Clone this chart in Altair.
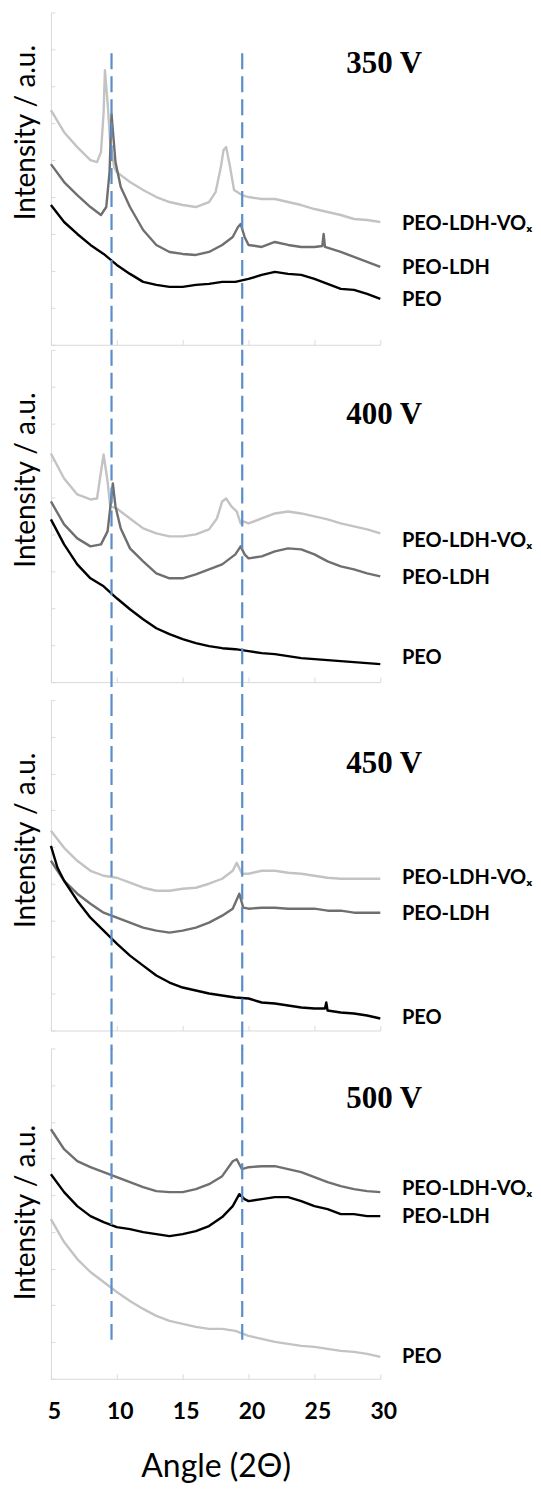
import altair as alt
import pandas as pd

# ---------------- data ----------------
SERIES = ["PEO-LDH-VOₓ", "PEO-LDH", "PEO"]
X_TICKS = [5, 10, 15, 20, 25, 30]
STEP_X = list(range(5, 31))

# 350 V
v350_vox_x = [5, 6, 7, 8, 8.5, 8.8, 9.0, 9.1, 9.3, 9.5, 9.8, 10, 11, 12, 13, 14, 15, 16, 17, 17.5,
              17.9, 18.1, 18.3, 18.6, 18.9, 19.5, 20, 21, 22, 23, 24, 25, 26, 27, 28, 29, 30]
v350_vox_y = [235, 213, 198, 185, 183, 193, 233, 275, 243, 203, 178, 173, 163, 155, 148, 143, 140, 138, 143, 153,
              178, 195, 198, 178, 155, 150, 148, 146, 146, 143, 140, 136, 133, 130, 126, 125, 123]
v350_ldh_x = [5, 6, 7, 8, 8.8, 9.2, 9.45, 9.6, 9.9, 10.3, 11, 12, 13, 14, 15, 16, 17, 18, 18.8, 19.2,
              19.4, 19.7, 20, 21, 22, 23, 24, 25, 25.6, 25.7, 25.8, 27, 28, 29, 30]
v350_ldh_y = [181, 163, 150, 138, 130, 138, 173, 231, 183, 158, 138, 115, 100, 93, 91, 90, 93, 100, 108, 118,
              121, 108, 100, 98, 103, 100, 98, 98, 99, 111, 98, 93, 88, 83, 78]
v350_peo_x = STEP_X
v350_peo_y = [140, 123, 111, 100, 91, 80, 71, 63, 60, 58, 58, 60, 61, 63, 63, 66, 70, 73, 71, 70, 66, 61, 56, 55, 51, 46]

# 400 V
v400_vox_x = [5, 6, 7, 8, 8.5, 8.8, 9.0, 9.3, 9.5, 10, 11, 12, 13, 14, 15, 16, 17, 17.6, 18.0, 18.3,
              18.7, 19.1, 19.4, 19.6, 20, 21, 22, 23, 24, 25, 26, 27, 28, 29, 30]
v400_vox_y = [229, 204, 188, 183, 184, 211, 228, 201, 176, 174, 164, 154, 149, 146, 146, 148, 153, 164, 181, 184,
              176, 171, 159, 161, 159, 164, 169, 171, 169, 166, 163, 159, 156, 153, 149]
v400_ldh_x = [5, 6, 7, 8, 8.8, 9.3, 9.5, 9.7, 9.9, 10.3, 11, 12, 13, 14, 15, 16, 17, 18, 19, 19.4,
              19.7, 20, 21, 22, 23, 24, 25, 26, 27, 28, 29, 30]
v400_ldh_y = [181, 158, 144, 136, 138, 151, 174, 199, 176, 154, 134, 121, 109, 104, 104, 108, 113, 118, 128, 136,
              128, 124, 126, 131, 134, 133, 128, 121, 116, 113, 109, 106]
v400_peo_x = STEP_X
v400_peo_y = [163, 138, 118, 104, 96, 84, 73, 63, 54, 48, 43, 39, 36, 34, 33, 31, 29, 28, 26, 24, 23, 22, 21, 20, 19, 18]

# 450 V
v450_vox_x = [5, 6, 7, 8, 9, 10, 11, 12, 13, 14, 15, 16, 17, 18, 18.8, 19.1, 19.5, 20, 21, 22,
              23, 24, 25, 26, 27, 28, 29, 30]
v450_vox_y = [200, 183, 170, 160, 155, 153, 148, 143, 140, 140, 142, 143, 147, 152, 160, 168, 157, 157, 160, 160,
              158, 157, 155, 153, 152, 152, 152, 152]
v450_ldh_x = [5, 6, 7, 8, 9, 10, 11, 12, 13, 14, 15, 16, 17, 18, 18.8, 19.3, 19.6, 20, 21, 22,
              23, 24, 25, 26, 27, 28, 29, 30]
v450_ldh_y = [170, 150, 137, 127, 118, 113, 108, 103, 100, 98, 100, 103, 108, 115, 122, 137, 123, 122, 123, 123,
              122, 122, 122, 120, 120, 118, 118, 118]
v450_peo_x = [5, 5.5, 6, 7, 8, 9, 10, 11, 12, 13, 14, 15, 16, 17, 18, 19, 20, 21, 22, 23,
              24, 25, 25.8, 25.9, 26, 27, 28, 29, 30]
v450_peo_y = [185, 163, 150, 130, 113, 100, 87, 75, 65, 55, 48, 43, 40, 37, 35, 33, 32, 28, 27, 25,
              23, 22, 22, 28, 20, 18, 17, 15, 12]

# 500 V
v500_vox_x = [5, 6, 7, 8, 9, 10, 11, 12, 13, 14, 15, 16, 17, 18, 18.8, 19.1, 19.5, 20, 21, 22,
              23, 24, 25, 26, 27, 28, 29, 30]
v500_vox_y = [250, 230, 218, 212, 207, 202, 197, 192, 188, 187, 187, 190, 195, 203, 218, 220, 210, 212, 213, 213,
              210, 207, 202, 197, 193, 190, 188, 187]
v500_ldh_x = [5, 6, 7, 8, 9, 10, 11, 12, 13, 14, 15, 16, 17, 18, 18.8, 19.3, 19.7, 20, 21, 22,
              23, 24, 25, 26, 27, 28, 29, 30]
v500_ldh_y = [205, 187, 173, 163, 157, 152, 150, 147, 145, 143, 145, 148, 153, 162, 173, 185, 180, 178, 180, 182,
              182, 178, 173, 170, 165, 165, 163, 163]
v500_peo_x = STEP_X
v500_peo_y = [160, 137, 120, 107, 97, 87, 78, 70, 63, 58, 55, 52, 50, 50, 48, 43, 40, 37, 35, 33, 32, 30, 28, 27, 25, 22]

VOLTAGES = ["350 V", "400 V", "450 V", "500 V"]
PEAK_ANGLES = [9.6, 19.52]
# label heights (a.u.) for the three series names, per panel
LABEL_Y = [[121, 77, 45], [141, 104, 24], [153, 117, 12], [190, 162, 22]]
VOLT_Y = [281, 268, 267, 280]
# dashed guide extent (a.u.) per panel: top, bottom
GUIDE = [(292, -5), (333, -18), (331, -19), (331, 32)]

# ---------------- styling ----------------
AX = "#d9d9d9"
LIGHT, MID, DARK = "#c3c3c3", "#6f6f6f", "#000000"
PANEL_COLORS = [[LIGHT, MID, DARK], [LIGHT, MID, DARK], [LIGHT, MID, DARK], [MID, DARK, LIGHT]]
HEIGHTS = [333, 333, 331, 331]
TITLE_Y = [120, 130, 140, 164]
W = 330
LABEL_X = 31.64
VOLT_X = 30.3


def frame(xs_list, ys_list):
    rows = []
    for name, xs, ys in zip(SERIES, xs_list, ys_list):
        for a, b in zip(xs, ys):
            rows.append({"angle": a, "intensity": b, "series": name})
    return pd.DataFrame(rows)


PANEL_DATA = [
    frame([v350_vox_x, v350_ldh_x, v350_peo_x], [v350_vox_y, v350_ldh_y, v350_peo_y]),
    frame([v400_vox_x, v400_ldh_x, v400_peo_x], [v400_vox_y, v400_ldh_y, v400_peo_y]),
    frame([v450_vox_x, v450_ldh_x, v450_peo_x], [v450_vox_y, v450_ldh_y, v450_peo_y]),
    frame([v500_vox_x, v500_ldh_x, v500_peo_x], [v500_vox_y, v500_ldh_y, v500_peo_y]),
]


def panel(i):
    h = HEIGHTS[i]
    bottom = i == 3
    xs = alt.Scale(domain=[5, 30], nice=False, zero=False)
    ys = alt.Scale(domain=[0, h], nice=False, zero=False)
    yticks = [round(h * k / 9, 3) for k in range(10)]

    if bottom:
        x_main = alt.Axis(orient="bottom", values=X_TICKS, domain=True, domainColor=AX, ticks=False,
                          grid=False, labels=True, labelFlush=False, labelFont="Lato", labelFontSize=23,
                          labelFontWeight="bold", labelColor="#000000", labelPadding=22, labelOffset=3,
                          labelBaseline="top",
                          title="Angle (2Θ)", titleFont="Lato", titleFontSize=32, titleFontWeight="normal",
                          titleColor="#000000", titleY=88, titleBaseline="middle")
    else:
        x_main = alt.Axis(orient="bottom", values=X_TICKS, domain=True, domainColor=AX, ticks=False,
                          grid=False, labels=False, title=None)
    y_main = alt.Axis(orient="left", values=yticks, domain=True, domainColor=AX, ticks=False, grid=False,
                      labels=False, title="Intensity / a.u.", titleFont="Lato", titleFontSize=28,
                      titleFontWeight="normal", titleColor="#000000", titleX=-24, titleY=TITLE_Y[i],
                      titleAngle=270, titleAlign="center", titleBaseline="middle")
    x_tick = alt.Axis(orient="bottom", values=X_TICKS, domain=False, ticks=True, tickSize=5, tickColor=AX,
                      offset=-5, labels=False, grid=False, title=None)
    y_tick = alt.Axis(orient="left", values=yticks, domain=False, ticks=True, tickSize=4, tickColor=AX,
                      offset=-4, labels=False, grid=False, title=None)

    lines = alt.Chart(PANEL_DATA[i]).mark_line(strokeWidth=2.4, strokeJoin="round").encode(
        x=alt.X("angle:Q", scale=xs, axis=x_main),
        y=alt.Y("intensity:Q", scale=ys, axis=y_main),
        color=alt.Color("series:N", scale=alt.Scale(domain=SERIES, range=PANEL_COLORS[i]), legend=None),
        order=alt.Order("angle:Q"),
    )

    top, bot = GUIDE[i]
    guide_df = pd.DataFrame({"angle": PEAK_ANGLES, "top": [top, top], "bot": [bot, bot]})
    guides = alt.Chart(guide_df).mark_rule(color="#5b8dcb", strokeDash=[16, 7], strokeWidth=2.2).encode(
        x=alt.X("angle:Q", scale=xs, axis=x_tick),
        y=alt.Y("top:Q", scale=ys, axis=y_tick),
        y2="bot:Q",
    )

    lab_df = pd.DataFrame({"angle": [LABEL_X] * 3, "intensity": LABEL_Y[i], "label": SERIES})
    labels = alt.Chart(lab_df).mark_text(align="left", baseline="middle", font="Lato", fontSize=20,
                                         fontWeight="bold", color="#000000").encode(
        x=alt.X("angle:Q", scale=xs, axis=None),
        y=alt.Y("intensity:Q", scale=ys, axis=None),
        text="label:N",
    )

    volt_df = pd.DataFrame({"angle": [VOLT_X], "intensity": [VOLT_Y[i]], "label": [VOLTAGES[i]]})
    volt = alt.Chart(volt_df).mark_text(align="center", baseline="middle", font="Liberation Serif",
                                        fontSize=31, fontWeight="bold", color="#000000").encode(
        x=alt.X("angle:Q", scale=xs, axis=None),
        y=alt.Y("intensity:Q", scale=ys, axis=None),
        text="label:N",
    )

    return alt.layer(lines, guides, labels, volt).resolve_axis(x="independent", y="independent").properties(
        width=W, height=h)


inner = alt.vconcat(panel(1), panel(2), panel(3), spacing=18, bounds="flush").resolve_scale(color="independent")
chart = alt.vconcat(panel(0), inner, spacing=5, bounds="flush").resolve_scale(color="independent").properties(
    padding={"left": 4, "top": 2, "right": 0, "bottom": 0}
).configure_view(stroke=None)

chart.save("out.html", embed_options={"renderer": "svg", "actions": False})
